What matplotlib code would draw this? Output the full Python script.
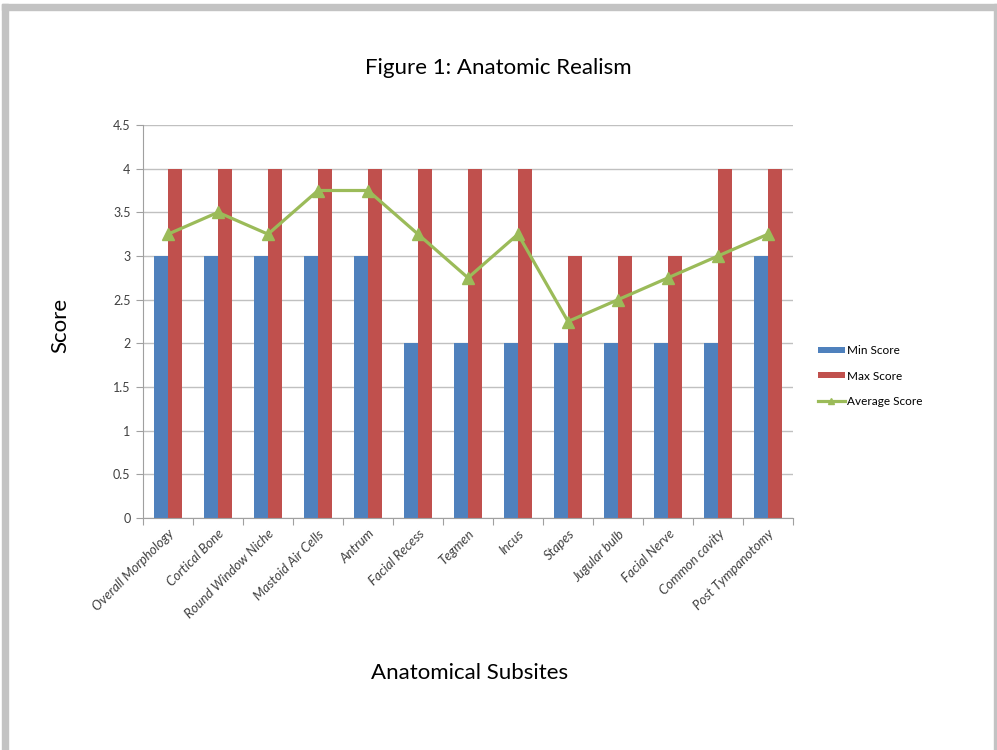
import matplotlib.pyplot as plt
import numpy as np
from matplotlib.patches import Rectangle

# Scores per anatomical subsite
subsites = ['Overall Morphology', 'Cortical Bone', 'Round Window Niche', 'Mastoid Air Cells',
            'Antrum', 'Facial Recess', 'Tegmen', 'Incus', 'Stapes', 'Jugular bulb',
            'Facial Nerve', 'Common cavity', 'Post Tympanotomy']
min_score = [3, 3, 3, 3, 3, 2, 2, 2, 2, 2, 2, 2, 3]
max_score = [4, 4, 4, 4, 4, 4, 4, 4, 3, 3, 3, 4, 4]
avg_score = [3.25, 3.5, 3.25, 3.75, 3.75, 3.25, 2.75, 3.25, 2.25, 2.5, 2.75, 3.0, 3.25]

plt.rcParams['font.family'] = ['Lato', 'DejaVu Sans']

fig = plt.figure(figsize=(9.97, 7.5), dpi=100)

# grey page frame
fig.patches.append(Rectangle((2 / 997, 0), 6 / 997, 1 - 4 / 750, transform=fig.transFigure,
                             color='#c3c3c3', zorder=0))
fig.patches.append(Rectangle((2 / 997, 1 - 10 / 750), 995 / 997, 6 / 750, transform=fig.transFigure,
                             color='#c3c3c3', zorder=0))
fig.patches.append(Rectangle((994 / 997, 0), 3 / 997, 1 - 4 / 750, transform=fig.transFigure,
                             color='#c3c3c3', zorder=0))

ax = fig.add_axes([143 / 997, 1 - 518 / 750, 650 / 997, 393 / 750])

x = np.arange(len(subsites))
w = 0.28
b1 = ax.bar(x - w / 2, min_score, w, color='#4f81bd', label='Min Score', zorder=2)
b2 = ax.bar(x + w / 2, max_score, w, color='#c0504d', label='Max Score', zorder=2)
l1, = ax.plot(x, avg_score, color='#9bbb59', lw=2.3, marker='^', ms=8, label='Average Score', zorder=3)

ax.set_xlim(-0.5, len(subsites) - 0.5)
ax.set_ylim(0, 4.5)
ax.set_yticks(np.arange(0, 4.51, 0.5))
ax.set_yticklabels(['0', '0.5', '1', '1.5', '2', '2.5', '3', '3.5', '4', '4.5'])
ax.yaxis.grid(True, color='#c0c0c0', lw=1)
ax.set_axisbelow(True)

# category boundaries get the tick marks, labels sit at centres
ax.set_xticks(np.arange(-0.5, len(subsites), 1))
ax.set_xticklabels([])
ax.set_xticks(x, minor=True)
ax.set_xticklabels(subsites, minor=True, rotation=45, ha='right', rotation_mode='anchor',
                   fontsize=9.5, color='#404040', style='italic')
ax.tick_params(axis='x', which='minor', length=0, pad=7)
ax.tick_params(axis='x', which='major', length=5, color='#a0a0a0')
ax.tick_params(axis='y', length=5, color='#a0a0a0', labelsize=9, labelcolor='#404040', pad=4)

for side in ['top', 'right']:
    ax.spines[side].set_visible(False)
for side in ['left', 'bottom']:
    ax.spines[side].set_color('#a0a0a0')

fig.text(0.5, 1 - 68 / 750, 'Figure 1: Anatomic Realism', ha='center', va='center', fontsize=16)
fig.text(60 / 997, 1 - 325 / 750, 'Score', ha='center', va='center', rotation=90, fontsize=16)
fig.text(470 / 997, 1 - 673 / 750, 'Anatomical Subsites', ha='center', va='center', fontsize=16)

ax.legend([b1, b2, l1], ['Min Score', 'Max Score', 'Average Score'],
          loc='center left', bbox_to_anchor=(807 / 997, 1 - 376 / 750), bbox_transform=fig.transFigure,
          frameon=False, fontsize=8.5, handlelength=2.3, handleheight=0.4, handletextpad=0.2,
          labelspacing=1.2, markerscale=0.6)

fig.savefig('out.png', dpi=100)
